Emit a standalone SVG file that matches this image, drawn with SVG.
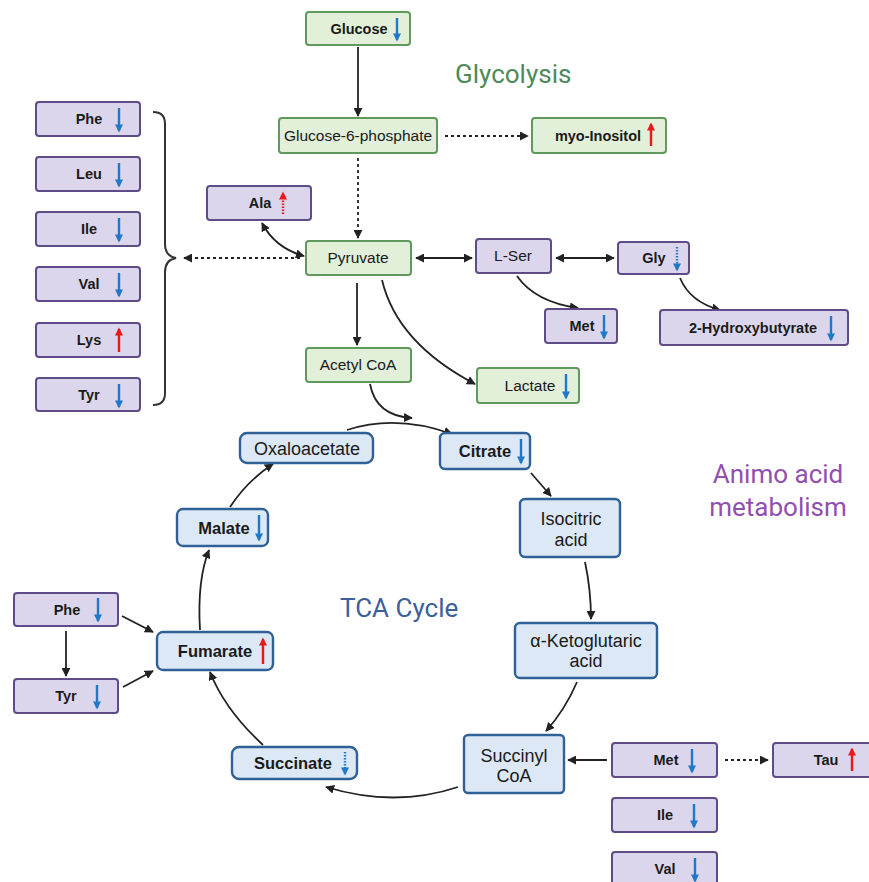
<svg xmlns="http://www.w3.org/2000/svg" width="869" height="882" viewBox="0 0 869 882">
<style>
  .g rect{fill:#e2efd9;stroke:#5f9a5c;stroke-width:2}
  .p rect{fill:#dcd6ec;stroke:#5f4b87;stroke-width:2}
  .b rect{fill:#dce8f5;stroke:#2f6096;stroke-width:2.4}
  text{font-family:"Liberation Sans",Arial,sans-serif;fill:#1a1a1a}
  .n{font-size:15.5px;text-anchor:middle}
  .bd{font-size:14.5px;font-weight:bold;text-anchor:middle}
  .b .n{font-size:18px}
  .b .bd{font-size:16.5px}
  .t{font-family:Roboto,"Liberation Sans",sans-serif;font-size:26px}
  .c path,.c line{fill:none;stroke:#222;stroke-width:1.8}
  .dash{stroke-dasharray:3 3}
  .ind line{stroke-width:2.4}
  .dn{stroke:#1f78c8;marker-end:url(#hb)}
  .up{stroke:#e8181c;marker-end:url(#hr)}
  .dot{stroke-dasharray:1.5 1.5}
</style>
<defs>
  <marker id="ah" viewBox="0 0 10 10" refX="9" refY="5" markerWidth="9" markerHeight="9" markerUnits="userSpaceOnUse" orient="auto-start-reverse"><path d="M0,0 L10,5 L0,10 z" fill="#222"/></marker>
  <marker id="hb" viewBox="0 0 10 10" refX="8" refY="5" markerWidth="9" markerHeight="8" markerUnits="userSpaceOnUse" orient="auto"><path d="M0,0 L10,5 L0,10 z" fill="#1f78c8"/></marker>
  <marker id="hr" viewBox="0 0 10 10" refX="8" refY="5" markerWidth="9" markerHeight="8" markerUnits="userSpaceOnUse" orient="auto"><path d="M0,0 L10,5 L0,10 z" fill="#e8181c"/></marker>
</defs>
<rect width="869" height="882" fill="#fff"/>

<text class="t" x="455" y="83" style="fill:#4d8a5b">Glycolysis</text>
<text class="t" x="340" y="617" style="fill:#3d5f9a">TCA Cycle</text>
<text class="t" x="778" y="483" text-anchor="middle" style="fill:#9150b0">Animo acid</text>
<text class="t" x="778" y="516" text-anchor="middle" style="fill:#9150b0">metabolism</text>

<g id="connectors" class="c">
  <line x1="358" y1="47" x2="358" y2="116" marker-end="url(#ah)"/>
  <line class="dash" x1="445" y1="136" x2="528" y2="136" marker-end="url(#ah)"/>
  <line class="dash" x1="358" y1="158" x2="358" y2="238" marker-end="url(#ah)"/>
  <path d="M262,223 Q275,248 304,256" marker-start="url(#ah)" marker-end="url(#ah)"/>
  <line class="dash" x1="300" y1="258" x2="184" y2="258" marker-end="url(#ah)"/>
  <line x1="416" y1="258" x2="472" y2="258" marker-start="url(#ah)" marker-end="url(#ah)"/>
  <line x1="556" y1="258" x2="614" y2="258" marker-start="url(#ah)" marker-end="url(#ah)"/>
  <path d="M517,276 Q535,302 578,308" marker-end="url(#ah)"/>
  <path d="M680,278 Q690,302 720,310" marker-end="url(#ah)"/>
  <line x1="357" y1="283" x2="357" y2="345" marker-end="url(#ah)"/>
  <path d="M382,280 Q397,343 475,384" marker-end="url(#ah)"/>
  <path d="M370,384 Q376,416 412,418" marker-end="url(#ah)"/>
  <path d="M347,430 Q396,414 452,434" marker-end="url(#ah)"/>
  <line x1="531" y1="473" x2="551" y2="496" marker-end="url(#ah)"/>
  <path d="M585,562 Q591,590 591,619" marker-end="url(#ah)"/>
  <path d="M577,682 Q565,710 546,731" marker-end="url(#ah)"/>
  <line x1="607" y1="760" x2="568" y2="760" marker-end="url(#ah)"/>
  <line class="dash" x1="725" y1="760" x2="768" y2="760" marker-end="url(#ah)"/>
  <path d="M458,787 Q395,808 326,787" marker-end="url(#ah)"/>
  <path d="M263,745 Q225,710 210,672" marker-end="url(#ah)"/>
  <path d="M200,630 Q197,580 209,550" marker-end="url(#ah)"/>
  <path d="M230,507 Q248,480 273,464" marker-end="url(#ah)"/>
  <line x1="66" y1="631" x2="66" y2="676" marker-end="url(#ah)"/>
  <line x1="122" y1="616" x2="153" y2="632" marker-end="url(#ah)"/>
  <line x1="123" y1="687" x2="153" y2="671" marker-end="url(#ah)"/>
  <path d="M153,112 Q165,112 165,124 L165,244 Q165,256 176,258 Q165,260 165,272 L165,393 Q165,405 153,405" style="stroke:#333;stroke-width:2"/>
</g>

<g id="glucose" class="g"><rect x="306" y="12" width="104" height="33" rx="3"/><text class="bd" x="359" y="34">Glucose</text><g class="ind"><line class="dn" x1="397" y1="18" x2="397" y2="40"/></g></g>
<g id="g6p" class="g"><rect x="279" y="118" width="158" height="35" rx="3"/><text class="n" x="358" y="141">Glucose-6-phosphate</text></g>
<g id="myo" class="g"><rect x="532" y="118" width="134" height="35" rx="3"/><text class="bd" x="598" y="141">myo-Inositol</text><g class="ind"><line class="up" x1="651" y1="146" x2="651" y2="124"/></g></g>
<g id="ala" class="p"><rect x="207" y="186" width="104" height="34" rx="3"/><text class="bd" x="260" y="208">Ala</text><g class="ind"><line class="up dot" x1="283" y1="214" x2="283" y2="193"/></g></g>
<g id="pyruvate" class="g"><rect x="306" y="241" width="105" height="34" rx="3"/><text class="n" x="358" y="263">Pyruvate</text></g>
<g id="lser" class="p"><rect x="476" y="239" width="75" height="34" rx="3"/><text class="n" x="513" y="261">L-Ser</text></g>
<g id="gly" class="p"><rect x="618" y="242" width="71" height="32" rx="3"/><text class="bd" x="654" y="263">Gly</text><g class="ind"><line class="dn dot" x1="677" y1="247" x2="677" y2="270"/></g></g>
<g id="met1" class="p"><rect x="545" y="309" width="72" height="34" rx="3"/><text class="bd" x="582" y="331">Met</text><g class="ind"><line class="dn" x1="604" y1="315" x2="604" y2="338"/></g></g>
<g id="hbut" class="p"><rect x="660" y="310" width="188" height="35" rx="3"/><text class="bd" x="753" y="333">2-Hydroxybutyrate</text><g class="ind"><line class="dn" x1="831" y1="316" x2="831" y2="340"/></g></g>
<g id="acetylcoa" class="g"><rect x="306" y="348" width="105" height="34" rx="3"/><text class="n" x="358" y="370">Acetyl CoA</text></g>
<g id="lactate" class="g"><rect x="477" y="368" width="102" height="35" rx="3"/><text class="n" x="530" y="391">Lactate</text><g class="ind"><line class="dn" x1="566" y1="374" x2="566" y2="398"/></g></g>

<g id="phe1" class="p"><rect x="36" y="102" width="104" height="34" rx="3"/><text class="bd" x="89" y="124">Phe</text><g class="ind"><line class="dn" x1="119" y1="108" x2="119" y2="131"/></g></g>
<g id="leu1" class="p"><rect x="36" y="157" width="104" height="34" rx="3"/><text class="bd" x="89" y="179">Leu</text><g class="ind"><line class="dn" x1="119" y1="163" x2="119" y2="186"/></g></g>
<g id="ile1" class="p"><rect x="36" y="212" width="104" height="34" rx="3"/><text class="bd" x="89" y="234">Ile</text><g class="ind"><line class="dn" x1="119" y1="218" x2="119" y2="241"/></g></g>
<g id="val1" class="p"><rect x="36" y="267" width="104" height="34" rx="3"/><text class="bd" x="89" y="289">Val</text><g class="ind"><line class="dn" x1="119" y1="273" x2="119" y2="296"/></g></g>
<g id="lys1" class="p"><rect x="36" y="323" width="104" height="34" rx="3"/><text class="bd" x="89" y="345">Lys</text><g class="ind"><line class="up" x1="119" y1="352" x2="119" y2="329"/></g></g>
<g id="tyr1" class="p"><rect x="36" y="378" width="104" height="33" rx="3"/><text class="bd" x="89" y="400">Tyr</text><g class="ind"><line class="dn" x1="119" y1="384" x2="119" y2="407"/></g></g>

<g id="oxaloacetate" class="b"><rect x="240" y="433" width="133" height="30" rx="7"/><text class="n" x="307" y="455">Oxaloacetate</text></g>
<g id="citrate" class="b"><rect x="440" y="433" width="90" height="36" rx="5"/><text class="bd" x="485" y="457">Citrate</text><g class="ind"><line class="dn" x1="521" y1="439" x2="521" y2="463"/></g></g>
<g id="isocitric" class="b"><rect x="520" y="499" width="100" height="58" rx="5"/><text class="n" x="571" y="525">Isocitric</text><text class="n" x="571" y="546">acid</text></g>
<g id="akg" class="b"><rect x="515" y="623" width="142" height="55" rx="5"/><text class="n" x="586" y="647">α-Ketoglutaric</text><text class="n" x="586" y="667">acid</text></g>
<g id="succinylcoa" class="b"><rect x="464" y="735" width="100" height="58" rx="4"/><text class="n" x="514" y="762">Succinyl</text><text class="n" x="514" y="782">CoA</text></g>
<g id="succinate" class="b"><rect x="232" y="747" width="125" height="32" rx="7"/><text class="bd" x="293" y="769">Succinate</text><g class="ind"><line class="dn dot" x1="345" y1="752" x2="345" y2="774"/></g></g>
<g id="fumarate" class="b"><rect x="157" y="632" width="116" height="38" rx="6"/><text class="bd" x="215" y="657">Fumarate</text><g class="ind"><line class="up" x1="263" y1="664" x2="263" y2="639"/></g></g>
<g id="malate" class="b"><rect x="177" y="509" width="91" height="37" rx="6"/><text class="bd" x="224" y="534">Malate</text><g class="ind"><line class="dn" x1="259" y1="515" x2="259" y2="540"/></g></g>

<g id="phe2" class="p"><rect x="14" y="593" width="104" height="33" rx="3"/><text class="bd" x="67" y="615">Phe</text><g class="ind"><line class="dn" x1="98" y1="598" x2="98" y2="621"/></g></g>
<g id="tyr2" class="p"><rect x="14" y="679" width="104" height="34" rx="3"/><text class="bd" x="66" y="701">Tyr</text><g class="ind"><line class="dn" x1="97" y1="685" x2="97" y2="708"/></g></g>
<g id="met2" class="p"><rect x="612" y="743" width="105" height="34" rx="3"/><text class="bd" x="666" y="765">Met</text><g class="ind"><line class="dn" x1="692" y1="749" x2="692" y2="772"/></g></g>
<g id="tau" class="p"><rect x="773" y="743" width="110" height="34" rx="3"/><text class="bd" x="826" y="765">Tau</text><g class="ind"><line class="up" x1="852" y1="771" x2="852" y2="749"/></g></g>
<g id="ile2" class="p"><rect x="612" y="798" width="105" height="34" rx="3"/><text class="bd" x="665" y="820">Ile</text><g class="ind"><line class="dn" x1="694" y1="804" x2="694" y2="827"/></g></g>
<g id="val2" class="p"><rect x="612" y="852" width="105" height="40" rx="3"/><text class="bd" x="665" y="874">Val</text><g class="ind"><line class="dn" x1="695" y1="858" x2="695" y2="881"/></g></g>
</svg>
